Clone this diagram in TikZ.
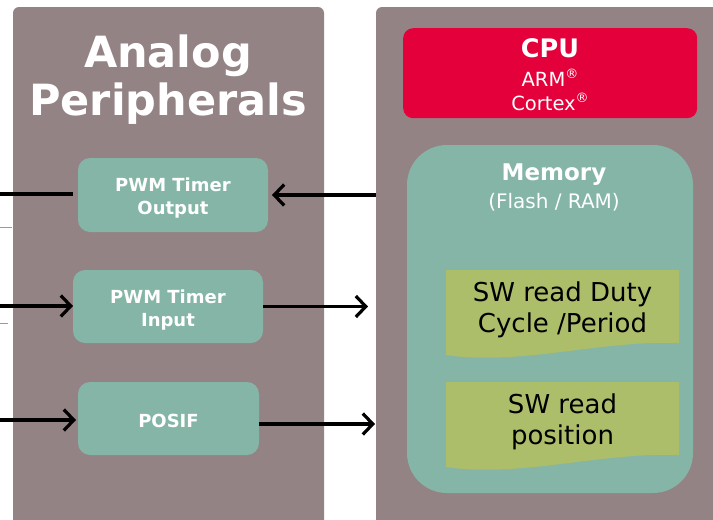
\documentclass[tikz,border=0pt]{standalone}
\usepackage{fontspec}
\setmainfont{DejaVu Sans}
\usetikzlibrary{arrows.meta}
\definecolor{panelgray}{HTML}{938385}
\definecolor{blockgreen}{HTML}{84B5A6}
\definecolor{cpured}{HTML}{E4003A}
\definecolor{docolive}{HTML}{ADBE6A}
\definecolor{stubgray}{HTML}{9A9A9A}
\newcommand\regmark{\raisebox{0.40em}{\fontsize{13}{13}\selectfont ®}}

\begin{document}
\begin{tikzpicture}[x=1pt,y=-1pt,
  panel/.style={fill=panelgray, rounded corners=6pt, anchor=north west,
                inner sep=0pt, outer sep=0pt},
  block/.style={fill=blockgreen, rounded corners=12pt, anchor=north west,
                inner sep=0pt, outer sep=0pt},
  lbl/.style={text=white, font=\bfseries\fontsize{18}{22.5}\selectfont,
              align=center, anchor=base},
  doctext/.style={font=\fontsize{26}{31}\selectfont, align=center, anchor=base},
  wire/.style={line width=3.2pt},
  arrowwire/.style={wire, -{Straight Barb[length=10pt,width=21pt]}},
  stub/.style={draw=stubgray, line width=1pt}]

\useasboundingbox (0,0) rectangle (713,520);
\clip (0,0) rectangle (713,520);

% two background panels, running off the lower edge
\node[panel, minimum width=311pt, minimum height=540pt] (lpanel) at (13,7) {};
\node[panel, minimum width=360pt, minimum height=540pt] (rpanel) at (376,7) {};

% left panel: title and peripheral blocks
% (multi-line nodes are placed by the baseline of their last line)
\node[text=white, font=\bfseries\fontsize{43}{48}\selectfont, align=center,
      anchor=base] (title) at (168,115) {Analog\\Peripherals};

\node[block, minimum width=190pt, minimum height=74pt] (pwmo) at (78,158) {};
\node[block, minimum width=190pt, minimum height=73pt] (pwmi) at (73,270) {};
\node[block, minimum width=181pt, minimum height=73pt] (posif) at (78,382) {};

\node[lbl] (pwmotxt) at (173,214) {PWM Timer\\Output};
\node[lbl] (pwmitxt) at (168,326) {PWM Timer\\Input};
\node[lbl] (posiftxt) at (168.5,427) {POSIF};

% right panel: CPU and memory
\node[fill=cpured, rounded corners=10pt, anchor=north west, inner sep=0pt,
      minimum width=294pt, minimum height=90pt] (cpu) at (403,28) {};
\node[anchor=base, text=white, font=\bfseries\fontsize{25.5}{30}\selectfont]
      (cputitle) at (550,57) {CPU};
\node[anchor=base, text=white, font=\fontsize{19.5}{24}\selectfont, align=center]
      (cpusub) at (550,110) {ARM\regmark\\Cortex\regmark};

\node[block, rounded corners=40pt, minimum width=286pt, minimum height=348pt]
      (mem) at (407,145) {};
\node[anchor=base, text=white, font=\bfseries\fontsize{23}{28}\selectfont]
      (memtitle) at (554,180) {Memory};
\node[anchor=base, text=white, font=\fontsize{20}{24}\selectfont]
      (memsub) at (554,208) {(Flash / RAM)};

% software documents with wavy lower edge
\fill[docolive] (446,270) -- (679,270) -- (679,343)
  .. controls (600,340) and (520,366) .. (446,355) -- cycle;
\fill[docolive] (446,382) -- (679,382) -- (679,455)
  .. controls (600,452) and (520,478) .. (446,467) -- cycle;
\node[doctext] (doc1txt) at (562.5,332) {SW read Duty\\Cycle /Period};
\node[doctext] (doc2txt) at (562.5,444) {SW read\\position};

% signal connections
\coordinate (outsig) at (0,194);
\coordinate (insig) at (0,306);
\coordinate (possig) at (0,420);
\coordinate (posout) at (375,424);

\draw[wire, shorten >=5pt] (outsig) -- (outsig -| pwmo.west);
\draw[arrowwire, shorten >=4pt] (rpanel.west |- pwmo.east) -- (pwmo.east);

\draw[arrowwire] (insig) -- (insig -| pwmi.west);
\draw[arrowwire, shorten >=8pt] (pwmi.east) -- (rpanel.west |- pwmi.east);

\draw[arrowwire, shorten >=2pt] (possig) -- (possig -| posif.west);
\draw[arrowwire] (posif.east |- posout) -- (posout);

% short grey stubs at the left edge
\draw[stub] (0,227) -- (12,227);
\draw[stub] (0,323) -- (8,323);
\end{tikzpicture}
\end{document}
